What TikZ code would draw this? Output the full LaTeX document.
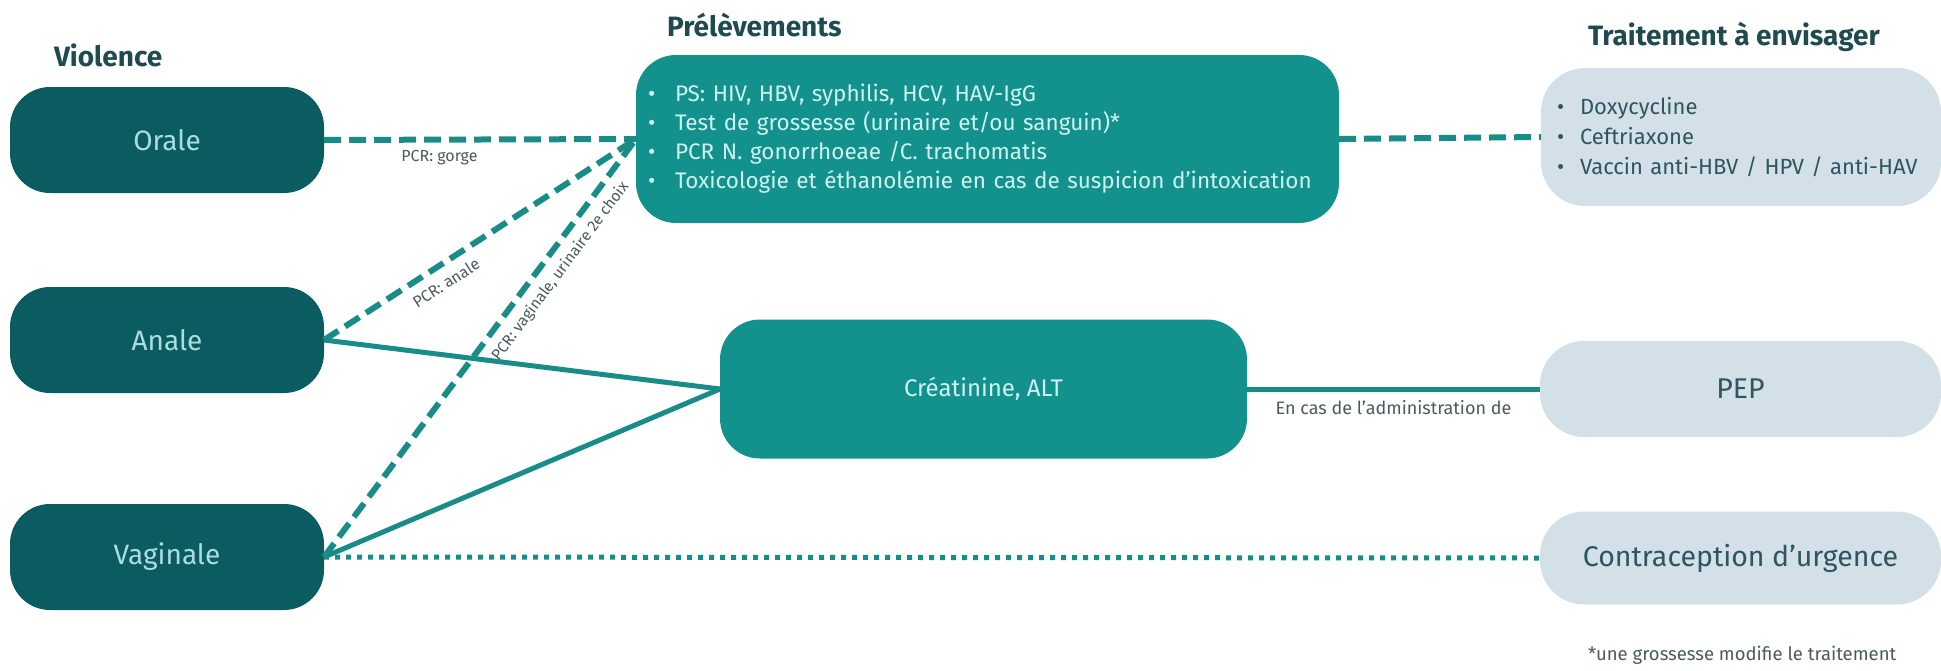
\documentclass[tikz,border=0pt]{standalone}
\usepackage{fontspec}
\setmainfont{Fira Sans}
\definecolor{cDark}{HTML}{0B5C61}
\definecolor{cTeal}{HTML}{13918D}
\definecolor{cLine}{HTML}{1A8C88}
\definecolor{cLight}{HTML}{D3E0E8}
\definecolor{cViolText}{HTML}{A9DEDE}
\definecolor{cTealText}{HTML}{CFF3F1}
\definecolor{cSlate}{HTML}{2E5560}
\definecolor{cTitle}{HTML}{1F4B50}
\definecolor{cLabel}{HTML}{4A5A5E}
\newcommand{\bul}[1]{\makebox[#1][l]{•}}
\begin{document}
\begin{tikzpicture}[x=1pt,y=-1pt,
  every node/.style={inner sep=0pt, outer sep=0pt},
  violbox/.style={fill=cDark, rounded corners=40pt, minimum width=314pt, minimum height=106pt,
    text=cViolText, font=\fontsize{28}{32}\selectfont},
  tealbox/.style={fill=cTeal, rounded corners=40pt, text=cTealText, font=\fontsize{22.5}{29}\selectfont},
  lightbox/.style={fill=cLight, rounded corners=44pt, text=cSlate},
  titletext/.style={anchor=west, text=cTitle, font=\fontsize{28}{32}\selectfont\bfseries},
  smalllabel/.style={text=cLabel, font=\fontsize{16}{19}\selectfont},
  dashl/.style={draw=cLine, line width=6pt, dash pattern=on 17pt off 8pt},
  solidl/.style={draw=cLine, line width=5pt},
  dotl/.style={draw=cLine, line width=5pt, dash pattern=on 5pt off 6pt}
]
\useasboundingbox (0,0) rectangle (1941,670);

% titles
\node[titletext] (tviol) at (54,55) {Violence};
\node[titletext] (tprel) at (667,25) {Prélèvements};
\node[titletext] (ttrait) at (1588,37) {Traitement à envisager};

% violence boxes
\node[violbox] (orale) at (167,140) {Orale};
\node[violbox] (anale) at (167,340) {Anale};
\node[violbox] (vaginale) at (167,557) {Vaginale};

% prelevements
\node[tealbox, minimum width=703pt, minimum height=168pt, text width=679pt, inner xsep=12pt, align=left]
  (prel) at (987.5,139)
  {\bul{27pt}PS: HIV, HBV, syphilis, HCV, HAV-IgG\\
   \bul{27pt}Test de grossesse (urinaire et/ou sanguin)*\\
   \bul{27pt}PCR N. gonorrhoeae /C. trachomatis\\
   \bul{27pt}Toxicologie et éthanolémie en cas de suspicion d’intoxication};

\node[tealbox, minimum width=527pt, minimum height=139pt, font=\fontsize{24}{28}\selectfont]
  (creat) at (983.5,389) {Créatinine, ALT};

% treatments
\node[lightbox, minimum width=400pt, minimum height=138pt, text width=368pt, inner xsep=16pt, align=left,
  font=\fontsize{22}{30}\selectfont]
  (treat) at (1741,137)
  {\mbox{\bul{23pt}Doxycycline}\\
   \mbox{\bul{23pt}Ceftriaxone}\\
   \mbox{\bul{23pt}Vaccin anti-HBV / HPV / anti-HAV}};

\node[lightbox, minimum width=401pt, minimum height=96pt, font=\fontsize{28.5}{32}\selectfont]
  (pep) at (1740.5,389) {PEP};
\node[lightbox, minimum width=401pt, minimum height=93pt, font=\fontsize{28.5}{32}\selectfont]
  (contra) at (1740.5,558) {Contraception d’urgence};

\node[smalllabel, anchor=west, font=\fontsize{18.5}{21}\selectfont] (foot) at (1588,655)
  {*une grossesse modifie le traitement};

% connectors
\draw[dashl] (orale.east) -- (prel.west)
  node[smalllabel, pos=0.37, below=11pt] (lgorge) {PCR: gorge};
\draw[dashl] (anale.east) -- (prel.west)
  node[smalllabel, pos=0.36, sloped, below=12pt] (lanale) {PCR: anale};
\draw[dashl] (vaginale.east) -- (prel.west)
  node[smalllabel, pos=0.71, sloped, below=11pt, font=\fontsize{15.5}{18}\selectfont] (lvag) {PCR: vaginale, urinaire 2e choix};
\draw[solidl] (anale.east) -- (creat.west);
\draw[solidl] (vaginale.east) -- (creat.west);
\draw[dashl] (prel.east) -- (treat.west);
\draw[solidl] (creat.east) -- (pep.west)
  node[smalllabel, pos=0.5, below=11pt, font=\fontsize{18}{21}\selectfont] (ladmin) {En cas de l’administration de};
\draw[dotl] (vaginale.east) -- (contra.west);
\end{tikzpicture}
\end{document}
